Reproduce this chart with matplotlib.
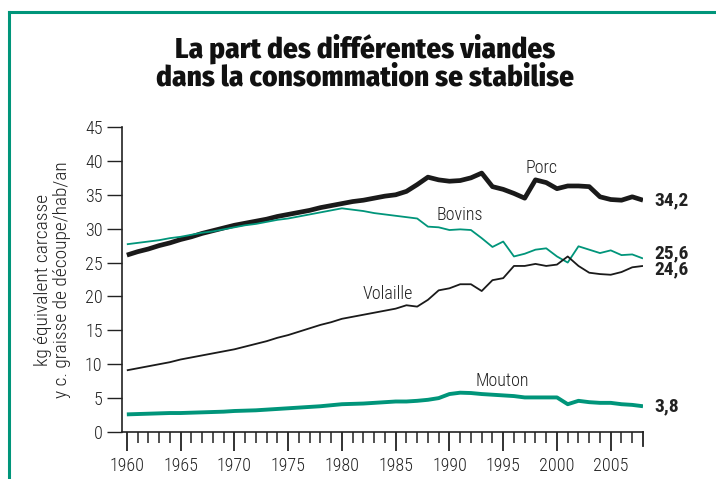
import numpy as np
import matplotlib
matplotlib.use("Agg")
import matplotlib.pyplot as plt
from matplotlib.lines import Line2D

# Données (kg équivalent carcasse / hab / an)
annees = list(range(1960, 2009))

porc = [26.1, 26.6, 27.0, 27.5, 27.9, 28.4, 28.8, 29.3, 29.7, 30.1,
        30.5, 30.8, 31.1, 31.4, 31.8, 32.1, 32.4, 32.7, 33.1, 33.4,
        33.7, 34.0, 34.2, 34.5, 34.8, 35.0, 35.5, 36.5, 37.6, 37.2,
        37.0, 37.1, 37.5, 38.2, 36.2, 35.8, 35.2, 34.5, 37.2, 36.8,
        35.9, 36.3, 36.3, 36.2, 34.7, 34.3, 34.2, 34.7, 34.2]

bovins = [27.7, 27.9, 28.1, 28.3, 28.6, 28.8, 29.1, 29.4, 29.6, 29.9,
          30.2, 30.5, 30.7, 31.0, 31.3, 31.5, 31.8, 32.1, 32.4, 32.7,
          33.0, 32.8, 32.6, 32.3, 32.1, 31.9, 31.7, 31.5, 30.3, 30.2,
          29.8, 29.9, 29.8, 28.6, 27.3, 28.1, 25.9, 26.3, 26.9, 27.1,
          25.9, 25.0, 27.4, 26.9, 26.4, 26.8, 26.1, 26.2, 25.6]

volaille = [9.1, 9.4, 9.7, 10.0, 10.3, 10.7, 11.0, 11.3, 11.6, 11.9,
            12.2, 12.6, 13.0, 13.4, 13.9, 14.3, 14.8, 15.3, 15.8, 16.2,
            16.7, 17.0, 17.3, 17.6, 17.9, 18.2, 18.7, 18.5, 19.5, 20.9,
            21.2, 21.8, 21.8, 20.8, 22.4, 22.7, 24.5, 24.5, 24.8, 24.5,
            24.7, 25.9, 24.5, 23.5, 23.3, 23.2, 23.6, 24.3, 24.5]

mouton = [2.6, 2.65, 2.7, 2.75, 2.8, 2.8, 2.85, 2.9, 2.95, 3.0,
          3.1, 3.15, 3.2, 3.3, 3.4, 3.5, 3.6, 3.7, 3.8, 3.95,
          4.1, 4.15, 4.2, 4.3, 4.4, 4.5, 4.5, 4.6, 4.75, 5.0,
          5.6, 5.8, 5.75, 5.6, 5.5, 5.4, 5.3, 5.1, 5.1, 5.1,
          5.1, 4.1, 4.6, 4.4, 4.3, 4.3, 4.1, 4.0, 3.8]

series = [
    ("Porc", porc, "#1a1a1a", 3.4),
    ("Bovins", bovins, "#00957a", 1.3),
    ("Volaille", volaille, "#1a1a1a", 1.3),
    ("Mouton", mouton, "#00957a", 2.8),
]
etiquettes = {"Porc": (1998.6, 39.0), "Bovins": (1991.0, 32.0),
              "Volaille": (1984.3, 20.4), "Mouton": (1994.9, 7.5)}
fin = {"Porc": ("34,2", 34.2), "Bovins": ("25,6", 26.4),
       "Volaille": ("24,6", 24.0), "Mouton": ("3,8", 3.8)}

vert = "#00957a"
fam = ["Roboto Condensed", "DejaVu Sans"]
fam_titre = ["Fira Sans Condensed", "Roboto Condensed", "DejaVu Sans"]
plt.rcParams["font.family"] = fam

fig = plt.figure(figsize=(7.16, 4.79), dpi=100)
ax = fig.add_axes([122 / 716, 47 / 479, 521 / 716, 305 / 479])

for nom, vals, coul, lw in series:
    ax.plot(annees, vals, color=coul, lw=lw, solid_capstyle="butt",
            solid_joinstyle="round")
    ex, ey = etiquettes[nom]
    ax.text(ex, ey, nom, ha="center", va="center", fontsize=13,
            fontweight="light", color="#222222")
    txt, yy = fin[nom]
    ax.text(2009.1, yy, txt, ha="left", va="center", fontsize=14,
            fontweight="bold", color="#222222")

ax.set_xlim(1959.55, 2008)
ax.set_ylim(0, 45)
ax.set_yticks(np.arange(0, 46, 5))
ax.set_xticks(range(1960, 2006, 5))
ax.set_xticks([a for a in annees if a % 5 != 0 and a != 2008], minor=True)
ax.tick_params(axis="y", direction="out", length=11, width=1, labelsize=13,
               pad=3, colors="#222222")
ax.tick_params(axis="x", which="major", direction="out", length=14, width=1.3,
               labelsize=13, pad=4, colors="#222222")
ax.tick_params(axis="x", which="minor", direction="out", length=8, width=1.1,
               colors="#222222")
for lab in ax.get_xticklabels() + ax.get_yticklabels():
    lab.set_fontweight("light")
for s in ["top", "right"]:
    ax.spines[s].set_visible(False)
for s in ["left", "bottom"]:
    ax.spines[s].set_linewidth(1.2)
    ax.spines[s].set_color("#222222")
# dernier trait long pour 2008
ax.plot([2008, 2008], [0, -2.1], color="#222222", lw=1.3, clip_on=False)
ax.set_ylabel("kg équivalent carcasse\ny c. graisse de découpe/hab/an",
              fontsize=14, fontweight="light", color="#222222", labelpad=10,
              linespacing=1.05)

fig.text(0.51, 1 - 63 / 479,
         "La part des différentes viandes\ndans la consommation se stabilise",
         ha="center", va="center", fontsize=21, fontweight="heavy",
         family=fam_titre, linespacing=1.0, color="#111111")

# cadre vert
fig.add_artist(Line2D([9 / 716, 9 / 716], [0, 1 - 12 / 479], color=vert, lw=2.2))
fig.add_artist(Line2D([9 / 716, 1], [1 - 12 / 479, 1 - 12 / 479], color=vert, lw=2.2))

fig.savefig("out.png", dpi=100)
